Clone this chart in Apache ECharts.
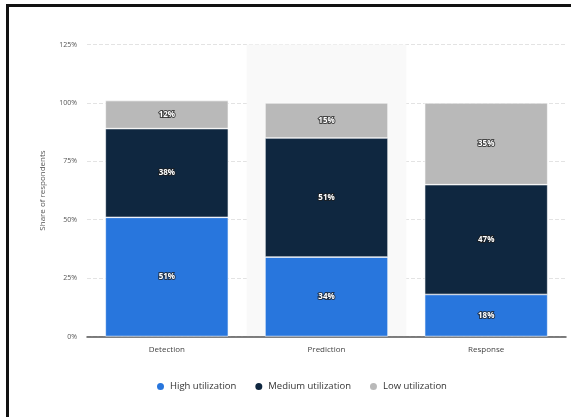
<!DOCTYPE html>
<html>
<head>
<meta charset="utf-8">
<script src="https://cdn.jsdelivr.net/npm/echarts@6/dist/echarts.min.js"></script>
<style>
  html, body { margin: 0; padding: 0; background: #fff; }
  #chart { position: absolute; left: 0; top: 0; width: 571px; height: 417px; }
  .frame {
    position: absolute; left: 6px; top: 4px; width: 571px; height: 420px;
    border-top: 3px solid #111; border-left: 3px solid #111;
    pointer-events: none;
  }
</style>
</head>
<body>
<div id="chart"></div>
<div class="frame"></div>
<script>
// survey categories and shares (%)
const categories = ['Detection', 'Prediction', 'Response']
const highUse = [51, 34, 18]
const mediumUse = [38, 51, 47]
const lowUse = [12, 15, 35]
const seriesNames = ['High utilization', 'Medium utilization', 'Low utilization']
const colors = ['#2876dd', '#0f2740', '#b9b9b9']

const barLabel = {
  show: true,
  position: 'inside',
  formatter: '{c}%',
  color: '#fff',
  fontSize: 8,
  fontWeight: 'bold',
  fontFamily: 'Open Sans',
  textBorderColor: 'rgba(30,30,30,0.75)',
  textBorderWidth: 2
}

function barSeries (name, data, color) {
  return {
    name,
    type: 'bar',
    stack: 'total',
    data,
    barWidth: 123,
    itemStyle: { color, borderColor: '#fff', borderWidth: 0.6 },
    label: barLabel
  }
}

const option = {
  animation: false,
  textStyle: { fontFamily: 'Open Sans' },
  color: colors,
  grid: { left: 87, right: 5, top: 44.5, bottom: 80.5 },
  legend: {
    bottom: 20,
    left: 150,
    icon: 'circle',
    itemWidth: 9,
    itemHeight: 9,
    itemGap: 17,
    textStyle: { fontSize: 9.5, color: '#333', fontFamily: 'Open Sans' },
    data: seriesNames
  },
  xAxis: {
    type: 'category',
    data: categories,
    axisLine: { lineStyle: { color: '#555', width: 1.5 } },
    axisTick: { show: false },
    axisLabel: { fontSize: 8, color: '#444', margin: 9 },
    splitArea: {
      show: true,
      areaStyle: { color: ['rgba(0,0,0,0)', '#f9f9f9', 'rgba(0,0,0,0)'] }
    }
  },
  yAxis: {
    type: 'value',
    min: 0,
    max: 125,
    interval: 25,
    name: 'Share of respondents',
    nameLocation: 'middle',
    nameGap: 40,
    nameTextStyle: { fontSize: 8, color: '#555' },
    axisLine: { show: false },
    axisTick: { show: false },
    axisLabel: { formatter: '{value}%', fontSize: 7, color: '#555', margin: 10 },
    splitLine: { lineStyle: { type: 'dashed', color: '#e3e3e3' } }
  },
  series: [
    barSeries(seriesNames[0], highUse, colors[0]),
    barSeries(seriesNames[1], mediumUse, colors[1]),
    barSeries(seriesNames[2], lowUse, colors[2])
  ]
}

const myChart = echarts.init(document.getElementById('chart'))
myChart.setOption(option)
</script>
</body>
</html>
